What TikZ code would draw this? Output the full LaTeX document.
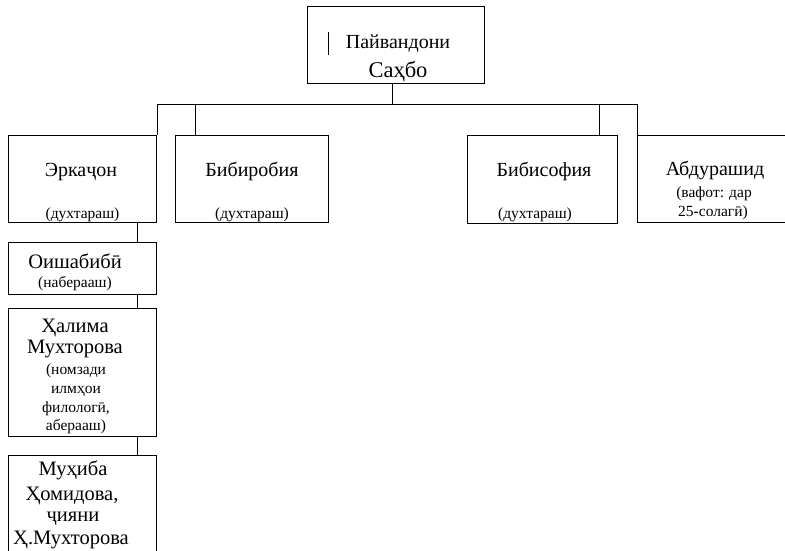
\documentclass[tikz,border=0pt]{standalone}
\usepackage{fontspec}
\setmainfont{Liberation Serif}
\begin{document}
\begin{tikzpicture}[x=1pt,y=-1pt,
  box/.style={draw=black, line width=1pt, inner sep=0pt, anchor=north west},
  ln/.style={draw=black, line width=1pt},
  big/.style={font=\fontsize{20}{23}\selectfont, anchor=base, inner sep=0pt},
  bigl/.style={font=\fontsize{20.5}{23}\selectfont, anchor=base, inner sep=0pt},
  bigger/.style={font=\fontsize{22.5}{26}\selectfont, anchor=base, inner sep=0pt},
  sm/.style={font=\fontsize{15.5}{18}\selectfont, anchor=base, inner sep=0pt}]
\useasboundingbox (0,0) rectangle (785,550);
\fill[white] (0,0) rectangle (785,550);

% boxes
\node[box, minimum width=177pt, minimum height=77pt] (root) at (307,6) {};
\node[box, minimum width=148pt, minimum height=87pt] (erk) at (8,135) {};
\node[box, minimum width=153pt, minimum height=87pt] (bibi) at (175,135) {};
\node[box, minimum width=150pt, minimum height=88pt] (sofia) at (467,135) {};
\node[box, minimum width=170pt, minimum height=87pt] (abdu) at (637,135) {};
\node[box, minimum width=148pt, minimum height=52pt] (oish) at (8,242) {};
\node[box, minimum width=148pt, minimum height=128pt] (hal) at (8,308) {};
\node[box, minimum width=148pt, minimum height=150pt] (muh) at (8,455) {};

% mark inside root box
\draw[ln] (328,32) -- (328,55);

% texts
\node[big] (r1) at (398,48) {Пайвандони};
\node[bigger] (r2) at (398,77) {Саҳбо};

\node[big] (e1) at (81,176) {Эркаҷон};
\node[sm] (e2) at (82.5,218) {(духтараш)};

\node[big] (b1) at (252,176) {Бибиробия};
\node[sm] (b2) at (252,218) {(духтараш)};

\node[big] (s1) at (544,176) {Бибисофия};
\node[sm] (s2) at (535,218) {(духтараш)};

\node[big] (a1) at (715,175) {Абдурашид};
\node[sm] (a2) at (714,197) {(вафот: дар};
\node[sm] (a3) at (713,216) {25-солагӣ)};

\node[bigl] (o1) at (75,268) {Оишабибӣ};
\node[sm] (o2) at (75,287) {(набераа\char"0448)};

\node[bigl] (h1) at (75,332) {Ҳалима};
\node[bigl] (h2) at (75,353) {Мухторова};
\node[sm] (h3) at (76,374) {(номзади};
\node[sm] (h4) at (76,393) {илмҳои};
\node[sm] (h5) at (76,412) {филологӣ,};
\node[sm] (h6) at (76,430) {абераа\char"0448)};

\node[bigl] (m1) at (73,475) {Муҳиба};
\node[bigl] (m2) at (72,500) {Ҳомидова,};
\node[bigl] (m3) at (73,521) {ҷияни};
\node[bigl] (m4) at (71,544) {Ҳ.Мухторова};

% connectors
\coordinate (bus) at (0,104);
\draw[ln] (erk.north east) -- (erk.north east |- bus) -- (abdu.north west |- bus) -- (abdu.north west);
\draw[ln] ([xshift=-3.5pt]root.south) -- ([xshift=-3.5pt]root.south |- bus);
\draw[ln] ([xshift=20pt]bibi.north west) -- ([xshift=20pt]bibi.north west |- bus);
\draw[ln] ([xshift=-19pt]sofia.north east) -- ([xshift=-19pt]sofia.north east |- bus);
\draw[ln] ([xshift=-20pt]erk.south east) -- ([xshift=-20pt]oish.north east);
\draw[ln] ([xshift=-20pt]oish.south east) -- ([xshift=-20pt]hal.north east);
\draw[ln] ([xshift=-20pt]hal.south east) -- ([xshift=-20pt]muh.north east);
\end{tikzpicture}
\end{document}
